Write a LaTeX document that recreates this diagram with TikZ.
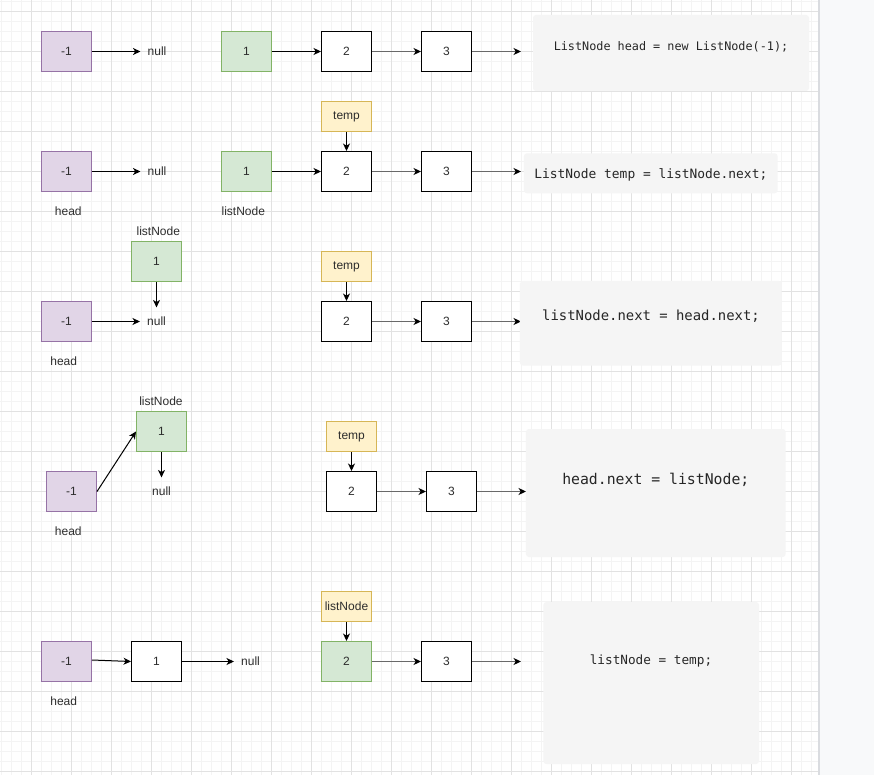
\documentclass[tikz,border=0pt]{standalone}
\usepackage{fontspec}
\setmainfont{Liberation Sans}
\newfontfamily\codefont{DejaVu Sans Mono}
\usetikzlibrary{arrows.meta}
\definecolor{gmajor}{RGB}{226,226,226}
\definecolor{gminor}{RGB}{244,244,244}
\definecolor{pfill}{RGB}{225,213,231}
\definecolor{pdraw}{RGB}{150,115,166}
\definecolor{gfill}{RGB}{213,232,212}
\definecolor{gdraw}{RGB}{130,179,102}
\definecolor{yfill}{RGB}{255,242,204}
\definecolor{ydraw}{RGB}{214,182,86}
\definecolor{cfill}{RGB}{245,245,245}
\definecolor{lgray}{RGB}{105,105,105}
\definecolor{stripc}{RGB}{248,249,250}
\definecolor{stripline}{RGB}{218,220,224}
\definecolor{txtc}{RGB}{45,45,45}
\begin{document}
\begin{tikzpicture}[x=1pt,y=-1pt,
  every node/.style={font=\fontsize{12}{14}\selectfont, text=txtc},
  box/.style={draw=black, fill=white, line width=1pt, minimum width=50pt, minimum height=40pt, inner sep=0pt},
  pbox/.style={box, fill=pfill, draw=pdraw},
  gbox/.style={box, fill=gfill, draw=gdraw},
  ybox/.style={box, fill=yfill, draw=ydraw, minimum height=30pt},
  nulltxt/.style={inner xsep=7pt, inner ysep=9.5pt},
  lbl/.style={inner sep=0pt},
  cbox/.style={fill=cfill, rounded corners=3pt, inner sep=0pt},
  ctext/.style={font=\codefont\fontsize{#1}{#1}\selectfont, text=black!85, inner sep=0pt, anchor=base},
  arr/.style={-{Stealth[length=7.5pt,width=7pt,inset=2.2pt]}, line width=1pt, black},
  garr/.style={-{Stealth[length=7.5pt,width=7pt,inset=2.2pt,black]}, line width=1.3pt, lgray},
]
\useasboundingbox (0,0) rectangle (874,775);
% background grid
\fill[white] (0,0) rectangle (818,775);
\foreach \x in {1.5,11.5,...,811.5} \draw[gminor, line width=1pt] (\x,0) -- (\x,775);
\foreach \y in {1.5,11.5,...,771.5} \draw[gminor, line width=1pt] (0,\y) -- (818,\y);
\foreach \x in {31.5,71.5,...,791.5} \draw[gmajor, line width=1pt] (\x,0) -- (\x,775);
\foreach \y in {11.5,51.5,...,771.5} \draw[gmajor, line width=1pt] (0,\y) -- (818,\y);
\fill[stripc] (818,0) rectangle (874,775);
\draw[stripline, line width=1.5pt] (818.75,0) -- (818.75,775);

% ---------- row 1
\node[pbox] (m1) at (66.5,51.5) {-1};
\node[nulltxt] (n1) at (157,51.5) {null};
\node[gbox] (a1) at (246.5,51.5) {1};
\node[box] (b1) at (346.5,51.5) {2};
\node[box] (c1) at (446.5,51.5) {3};
\coordinate (e1) at (521,51.5);
\draw[arr] (m1) -- (n1);
\draw[arr] (a1) -- (b1);
\draw[garr] (b1) -- (c1);
\draw[garr] (c1) -- (e1);
\node[cbox, minimum width=276pt, minimum height=76pt] (k1) at (671,53) {};
\node[ctext=11.8] (t1) at (671,50.5) {ListNode head = new ListNode(-1);};

% ---------- row 2
\node[pbox] (m2) at (66.5,171.5) {-1};
\node[nulltxt] (n2) at (157,171.5) {null};
\node[lbl] (h2) at (68.3,211.7) {head};
\node[gbox] (a2) at (246.5,171.5) {1};
\node[lbl] (l2) at (243.3,211.7) {listNode};
\node[ybox] (y2) at (346.5,116.5) {temp};
\node[box] (b2) at (346.5,171.5) {2};
\node[box] (c2) at (446.5,171.5) {3};
\coordinate (e2) at (521,171.5);
\draw[arr] (m2) -- (n2);
\draw[arr] (a2) -- (b2);
\draw[arr] (y2) -- (b2);
\draw[garr] (b2) -- (c2);
\draw[garr] (c2) -- (e2);
\node[cbox, minimum width=253.7pt, minimum height=40pt] (k2) at (650.8,173.3) {};
\node[ctext=12.9] (t2) at (650.8,178.8) {ListNode temp = listNode.next;};

% ---------- row 3
\node[lbl] (l3) at (158.3,231.7) {listNode};
\node[gbox] (a3) at (156.5,261.5) {1};
\node[pbox] (m3) at (66.5,321.5) {-1};
\node[nulltxt] (n3) at (156.5,321.5) {null};
\node[lbl] (h3) at (63.7,361.7) {head};
\node[ybox] (y3) at (346.5,266.5) {temp};
\node[box] (b3) at (346.5,321.5) {2};
\node[box] (c3) at (446.5,321.5) {3};
\coordinate (e3) at (521,321.5);
\draw[arr] (m3) -- (n3);
\draw[arr] (a3) -- (n3);
\draw[arr] (y3) -- (b3);
\draw[garr] (b3) -- (c3);
\draw[garr] (c3) -- (e3);
\node[cbox, minimum width=261.7pt, minimum height=84.7pt] (k3) at (650.8,323.3) {};
\node[ctext=13.9] (t3) at (651,320.7) {listNode.next = head.next;};

% ---------- row 4
\node[lbl] (l4) at (161,401.7) {listNode};
\node[gbox] (a4) at (161.5,431.5) {1};
\node[nulltxt] (n4) at (161.5,491.5) {null};
\node[pbox] (m4) at (71.5,491.5) {-1};
\node[lbl] (h4) at (68.3,531.7) {head};
\node[ybox] (y4) at (351.5,436.5) {temp};
\node[box] (b4) at (351.5,491.5) {2};
\node[box] (c4) at (451.5,491.5) {3};
\coordinate (e4) at (526,491.5);
\draw[arr] (m4.east) -- (a4.west);
\draw[arr] (a4) -- (n4);
\draw[arr] (y4) -- (b4);
\draw[garr] (b4) -- (c4);
\draw[garr] (c4) -- (e4);
\node[cbox, minimum width=259.7pt, minimum height=128pt] (k4) at (655.8,493) {};
\node[ctext=14.8] (t4) at (655.8,484) {head.next = listNode;};

% ---------- row 5
\node[pbox] (m5) at (66.5,661.5) {-1};
\node[lbl] (h5) at (63.7,701.7) {head};
\node[box] (o5) at (156.5,661.5) {1};
\node[nulltxt] (n5) at (250.5,661.5) {null};
\node[ybox] (y5) at (346.5,606.5) {listNode};
\node[gbox] (b5) at (346.5,661.5) {2};
\node[box] (c5) at (446.5,661.5) {3};
\coordinate (e5) at (521,661.5);
\draw[arr] ([yshift=1.5pt]m5.east) -- (o5.west);
\draw[arr] (o5) -- (n5);
\draw[arr] (y5) -- (b5);
\draw[garr] (b5) -- (c5);
\draw[garr] (c5) -- (e5);
\node[cbox, minimum width=215.7pt, minimum height=162pt] (k5) at (651.2,683) {};
\node[ctext=12.7] (t5) at (651,664.4) {listNode = temp;};
\end{tikzpicture}
\end{document}
